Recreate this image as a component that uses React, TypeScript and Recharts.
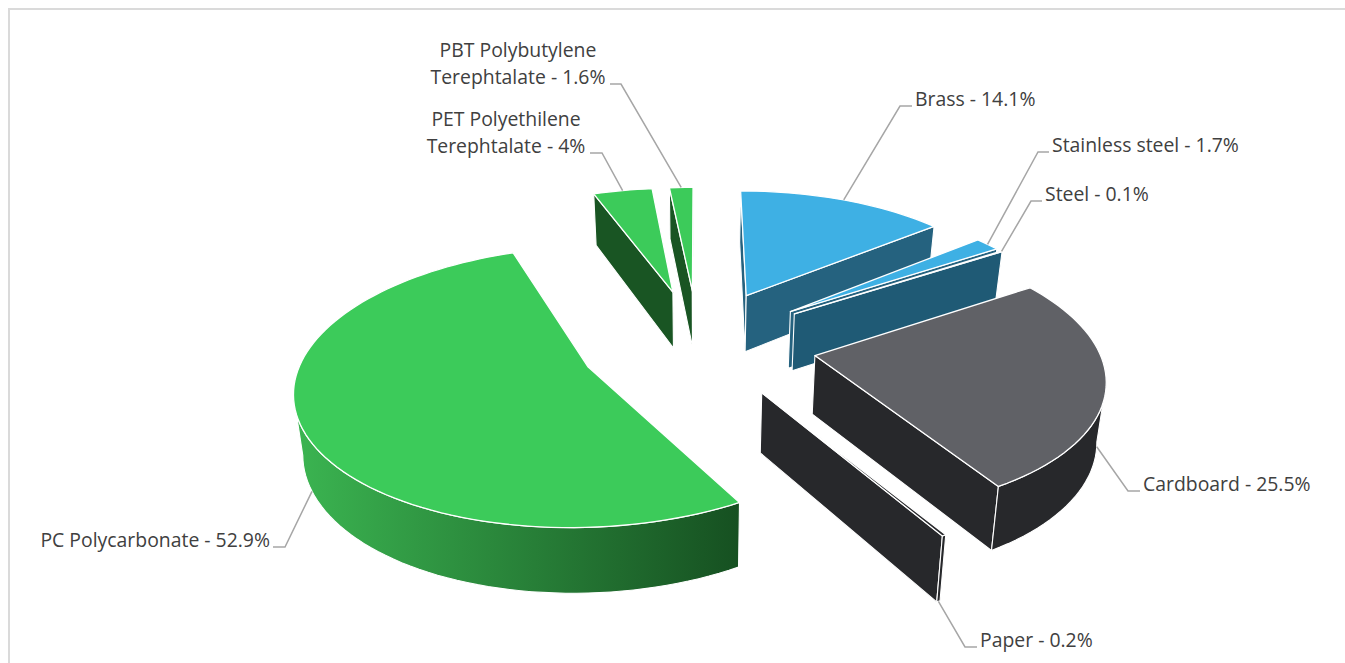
import { PieChart, Pie } from "recharts";

// Materials clockwise from the top of the pie
const MATERIALS = [
  "Brass",
  "Stainless steel",
  "Steel",
  "Cardboard",
  "Paper",
  "PC Polycarbonate",
  "PET Polyethilene Terephtalate",
  "PBT Polybutylene Terephtalate",
];
const SHARES = [14.1, 1.7, 0.1, 25.5, 0.2, 52.9, 4, 1.6];
const TOP_COLORS = ["#3EB0E4", "#3EB0E4", "#1F5A75", "#606166", "#27282B", "#3CCB5A", "#3CCB5A", "#3CCB5A"];
const WALL_COLORS = ["#25627F", "#25627F", "#1F5A75", "#27282B", "#27282B", "#165021", "#195523", "#195523"];
const WALL_LIGHT = [null, null, null, null, null, "#3BB551", null, null];

const chartData = MATERIALS.map((name, i) => ({
  name,
  value: SHARES[i],
  fill: TOP_COLORS[i],
  wall: WALL_COLORS[i],
  wallLight: WALL_LIGHT[i],
  id: i,
}));

// 3D look of the pie
const CX = 698;
const CY = 343;
const RADIUS = 282;
const SQUASH = 0.465;
const PERSPECTIVE = 0.1376;
const EXPLODE = 0.42;
const DEPTH = 58;
const DROP_SCALE = 0.977;

type Pt = { x: number; y: number; w: number };

const rad = (deg: number) => (deg * Math.PI) / 180;

function project(px: number, py: number): Pt {
  const w = 1 + PERSPECTIVE * py;
  return { x: CX + (RADIUS * px) / w, y: CY - (RADIUS * SQUASH * py) / w, w };
}

function drop(p: Pt) {
  return { x: CX + (p.x - CX) * DROP_SCALE, y: p.y + DEPTH / Math.pow(p.w, 0.7), w: p.w };
}

function rimPoint(angle: number, mid: number) {
  return project(
    EXPLODE * Math.cos(rad(mid)) + Math.cos(rad(angle)),
    EXPLODE * Math.sin(rad(mid)) + Math.sin(rad(angle)),
  );
}

function apexPoint(mid: number) {
  return project(EXPLODE * Math.cos(rad(mid)), EXPLODE * Math.sin(rad(mid)));
}

// a wall hangs down from an edge; it shows when the top lies on the other side of that edge
function wallVisible(a: Pt, b: Pt, inside: Pt) {
  const ex = b.x - a.x;
  const ey = b.y - a.y;
  return ex * (inside.y - a.y) - ey * (inside.x - a.x) > 0 !== ex > 0;
}

const toPath = (pts: { x: number; y: number }[]) =>
  pts.map((p, i) => `${i ? "L" : "M"}${p.x.toFixed(2)} ${p.y.toFixed(2)}`).join(" ") + " Z";

function Slice3D(props: any) {
  const { startAngle, endAngle, fill, payload } = props;
  const mid = (startAngle + endAngle) / 2;
  const apex = apexPoint(mid);
  const steps = Math.max(2, Math.ceil(Math.abs(startAngle - endAngle) / 2));
  const rim: Pt[] = [];
  for (let i = 0; i <= steps; i++) {
    rim.push(rimPoint(startAngle + ((endAngle - startAngle) * i) / steps, mid));
  }
  const first = rim[0];
  const last = rim[rim.length - 1];
  const inner = {
    x: (apex.x + rimPoint(mid, mid).x) / 2,
    y: (apex.y + rimPoint(mid, mid).y) / 2,
    w: 1,
  };

  const runs: Pt[] = [];
  for (let i = 0; i < rim.length - 1; i++) {
    if (wallVisible(rim[i], rim[i + 1], apex)) {
      if (!runs.length) runs.push(rim[i]);
      runs.push(rim[i + 1]);
    }
  }
  const gradId = `wall-grad-${payload.id}`;
  const xs = runs.map((p) => p.x);
  const wallFill = payload.wallLight && runs.length ? `url(#${gradId})` : payload.wall;

  const cutFace = (p: Pt, key: string) =>
    wallVisible(apex, p, inner) ? (
      <path
        key={key}
        d={toPath([apex, p, drop(p), drop(apex)])}
        fill={payload.wall}
        stroke="#fff"
        strokeWidth={1.1}
        strokeLinejoin="round"
      />
    ) : null;

  return (
    <g>
      {payload.wallLight && runs.length > 0 && (
        <defs>
          <linearGradient
            id={gradId}
            gradientUnits="userSpaceOnUse"
            x1={Math.min(...xs)}
            x2={Math.max(...xs)}
            y1={0}
            y2={0}
          >
            <stop offset="0%" stopColor={payload.wallLight} />
            <stop offset="100%" stopColor={payload.wall} />
          </linearGradient>
        </defs>
      )}
      {cutFace(first, "start")}
      {cutFace(last, "end")}
      {runs.length > 1 && (
        <path
          d={toPath([...runs, ...runs.map(drop).reverse()])}
          fill={wallFill}
          stroke="#fff"
          strokeWidth={1.1}
          strokeLinejoin="round"
        />
      )}
      <path
        d={toPath([apex, ...rim])}
        fill={fill}
        stroke="#fff"
        strokeWidth={1.3}
        strokeLinejoin="round"
      />
    </g>
  );
}

// Label text spots and leader elbows, by material index
const LABEL_SPOTS = [
  { x: 915, y: [106], anchor: "start", elbow: [900, 106], end: [912, 106] },
  { x: 1052, y: [152], anchor: "start", elbow: [1038, 152], end: [1049, 152] },
  { x: 1045, y: [201], anchor: "start", elbow: [1031, 201], end: [1042, 201] },
  { x: 1143, y: [491], anchor: "start", elbow: [1128, 491], end: [1140, 491] },
  { x: 980, y: [647], anchor: "start", elbow: [965, 647], end: [977, 647] },
  { x: 270, y: [547], anchor: "end", elbow: [285, 547], end: [273, 547] },
  { x: 506, y: [126, 153], anchor: "middle", elbow: [602, 153], end: [590, 153] },
  { x: 518, y: [57, 84], anchor: "middle", elbow: [621, 84], end: [610, 84] },
];

function SliceLabel(props: any) {
  const { startAngle, endAngle, index, name, value } = props;
  const spot = LABEL_SPOTS[index];
  const mid = (startAngle + endAngle) / 2;
  const onRim = rimPoint(mid, mid);
  const from = Math.sin(rad(mid)) < 0 ? drop(onRim) : onRim;
  const text = `${name} - ${value}%`;
  const words = text.split(" ");
  const lines = spot.y.length > 1 ? [words.slice(0, 2).join(" "), words.slice(2).join(" ")] : [text];
  return (
    <g>
      <polyline
        points={`${from.x},${from.y} ${spot.elbow.join(",")} ${spot.end.join(",")}`}
        fill="none"
        stroke="#A6A6A6"
        strokeWidth={1.5}
      />
      <text
        textAnchor={spot.anchor}
        fontFamily="'Open Sans', sans-serif"
        fontSize={19.4}
        fill="#404040"
      >
        {lines.map((line, i) => (
          <tspan key={i} x={spot.x} y={spot.y[i]}>
            {line}
          </tspan>
        ))}
      </text>
    </g>
  );
}

export default function App() {
  return (
    <div
      style={{
        position: "absolute",
        left: 0,
        top: 0,
        width: 1345,
        height: 663,
        overflow: "hidden",
        background: "#fff",
      }}
    >
      {/* frame: only top and left edges fall inside the crop */}
      <div
        style={{
          position: "absolute",
          left: 8,
          top: 8,
          width: 1340,
          height: 700,
          borderTop: "2px solid #DADADA",
          borderLeft: "2px solid #DADADA",
        }}
      />
      <div style={{ position: "absolute", left: 0, top: 0 }}>
        <PieChart width={1345} height={663}>
          <Pie
            data={chartData}
            dataKey="value"
            nameKey="name"
            cx={CX}
            cy={CY}
            outerRadius={RADIUS}
            startAngle={90}
            endAngle={-270}
            stroke="none"
            shape={Slice3D}
            label={SliceLabel}
            labelLine={false}
            isAnimationActive={false}
          />
        </PieChart>
      </div>
    </div>
  );
}
